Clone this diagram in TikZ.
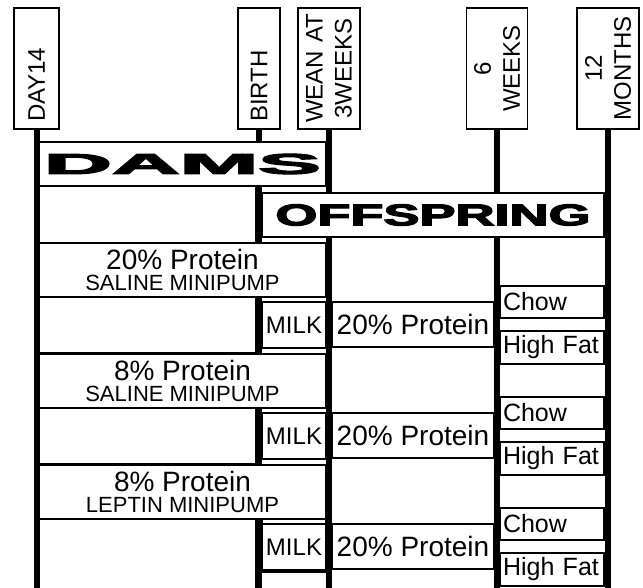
\documentclass[tikz,border=0pt]{standalone}
\usepackage{fontspec}
\setmainfont{Liberation Sans}
\newfontfamily\heavyfont{Liberation Sans Bold}[FakeBold=3.5]
\usepackage{graphicx}
\usepackage{tikz}
\usetikzlibrary{positioning}
\newcommand{\bigline}[1]{{\fontsize{28}{21}\selectfont #1}}

\begin{document}
\begin{tikzpicture}[x=1pt, y=-1pt,
          rail/.style={line width=6pt},
          hdr/.style={draw, fill=white, line width=1.4pt, rotate=90, inner sep=0pt,
                      minimum width=121pt, text width=117pt, align=center,
                      font=\fontsize{24}{29}\selectfont},
          bx/.style={draw, fill=white, line width=1.4pt, inner sep=0pt},
          diet/.style={bx, minimum width=287pt, minimum height=54pt, align=center,
                       font=\fontsize{22}{21}\selectfont},
          blank/.style={bx, minimum width=217pt},
          milk/.style={bx, minimum width=64pt, minimum height=46pt, font=\fontsize{24}{24}\selectfont},
          pup/.style={bx, minimum width=162pt, minimum height=45pt, font=\fontsize{28}{28}\selectfont},
          late/.style={bx, minimum width=104pt, text width=98pt, align=left,
                       font=\fontsize{25}{25}\selectfont}
        ]
        \useasboundingbox (0,0) rectangle (643,588);
        \clip (0,0) rectangle (643,588);
        \coordinate (bot) at (0,590);
        % Time points
        \node[hdr, minimum height=45pt, text width=107pt, align=left] (day)   at (36.5,68.5) {DAY14};
        \node[hdr, minimum height=42pt, text width=107pt, align=left] (birth) at (259,68.5)  {BIRTH};
        \node[hdr, minimum height=62pt] (wean)  at (329,68.5) {WEAN AT\\3WEEKS};
        \node[hdr, minimum height=61pt] (six)   at (497,68.5) {6\\WEEKS};
        \node[hdr, minimum height=62pt] (year)  at (608,68.5) {12\\MONTHS};

        \draw[rail] (day.west)   -- (day.west |- bot);
        \draw[rail] (birth.west) -- (birth.west |- bot);
        \draw[rail] (wean.west)  -- (wean.west |- bot);
        \draw[rail] (six.west)   -- (six.west |- bot);
        \draw[rail] (year.west)  -- (year.west |- bot);

        % Dams and offspring
        \node[bx, minimum width=287pt, minimum height=44pt] (dams) at (182.5,164)
             {\raisebox{-2pt}{\resizebox{277pt}{20pt}{\heavyfont DAMS}}};
        \node[blank, minimum height=57pt] (e0) at (147.5,214.5) {};
        \node[bx, minimum width=342pt, minimum height=44pt] (pups) at (433,215)
             {\resizebox{315pt}{21pt}{\heavyfont OFFSPRING}};

        % Group 1
        \node[diet] (d1) at (182.5,270) {\bigline{20\% Protein}\\SALINE MINIPUMP};
        \node[blank, minimum height=56pt] (e1) at (147.5,325) {};
        \node[milk] (m1) at (294,325)   {MILK};
        \node[pup]  (p1) at (413,324.5) {20\% Protein};
        \node[late, minimum height=32pt] (c1) at (552,302)   {Chow};
        \node[late, minimum height=33pt] (h1) at (552,347.5) {High Fat};

        % Group 2
        \node[diet] (d2) at (182.5,381) {\bigline{8\% Protein}\\SALINE MINIPUMP};
        \node[blank, minimum height=56pt] (e2) at (147.5,436) {};
        \node[milk] (m2) at (294,436)   {MILK};
        \node[pup]  (p2) at (413,435.5) {20\% Protein};
        \node[late, minimum height=32pt] (c2) at (552,413)   {Chow};
        \node[late, minimum height=33pt] (h2) at (552,458.5) {High Fat};

        % Group 3
        \node[diet] (d3) at (182.5,492) {\bigline{8\% Protein}\\LEPTIN MINIPUMP};
        \node[blank, minimum height=81pt] (e3) at (147.5,559.5) {};
        \node[bx, minimum width=64pt, minimum height=53pt] (f3) at (294,545.5) {};
        \node[milk] (m3) at (294,547)   {MILK};
        \node[pup]  (p3) at (413,546.5) {20\% Protein};
        \node[late, minimum height=32pt] (c3) at (552,524)   {Chow};
        \node[late, minimum height=33pt] (h3) at (552,569.5) {High Fat};
      \end{tikzpicture}
\end{document}
